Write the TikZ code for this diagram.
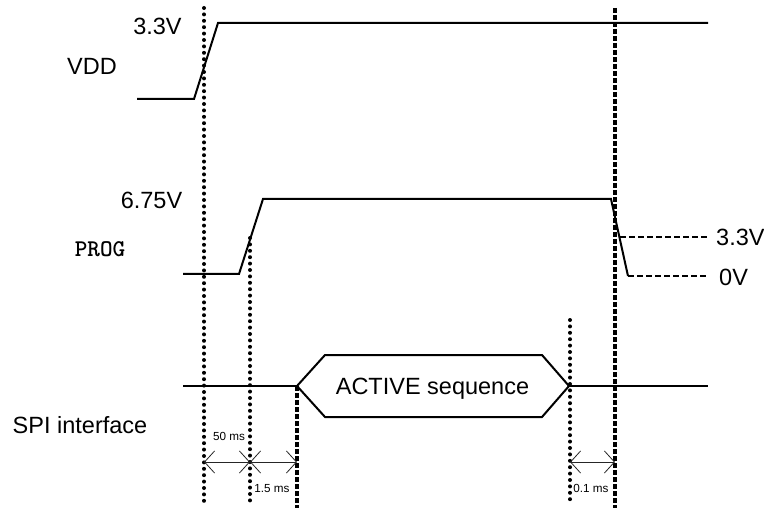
\documentclass[tikz,border=0pt]{standalone}
\usepackage{fontspec}
\setmainfont{Liberation Sans}
\newfontfamily\progfont{lmmonolt10-bold.otf}
\usetikzlibrary{arrows.meta, positioning}
\tikzset{
  wave/.style={line width=2pt, line join=miter},
  dotmark/.style={line width=4pt, line cap=round, dash pattern=on 0pt off 6.4pt},
  dashmark/.style={line width=3.5pt, dash pattern=on 5pt off 2pt},
  levelline/.style={line width=2.6pt, dash pattern=on 6pt off 3pt},
  lbl/.style={font=\fontsize{23.5}{26}\selectfont, inner sep=0pt, anchor=base},
  smalllbl/.style={font=\fontsize{11.7}{13}\selectfont, inner sep=0pt, anchor=base},
  dimarrow/.style={{Straight Barb[length=10pt,width=22pt,line width=0.8pt]}-{Straight Barb[length=10pt,width=22pt,line width=0.8pt]}, line width=0.8pt, draw=black!85},
}

\begin{document}
\begin{tikzpicture}[x=1pt, y=-1pt]
  \useasboundingbox (0,0) rectangle (764,508);

  % signal names and levels
  \node[lbl] (vdd) at (92,75) {VDD};
  \node[lbl] (vddhigh) at (157.5,35) {3.3V};
  \node[lbl] (proghigh) at (151.5,209) {6.75V};
  \node[lbl, font=\progfont\fontsize{24}{26}\selectfont] (prog) at (100,257) {PROG};
  \node[lbl, anchor=base west] (progmid) at (716,246) {3.3V};
  \node[lbl, anchor=base west] (proglow) at (719,285) {0V};
  \node[lbl] (spi) at (80,433) {SPI interface};
  \node[lbl] (active) at (432.5,394) {ACTIVE sequence};

  % VDD
  \coordinate (vddA) at (137,99);
  \coordinate (vddB) at (194,99);
  \coordinate (vddC) at (218,23);
  \coordinate (vddD) at (708,23);
  \draw[wave] (vddA) -- (vddB) -- (vddC) -- (vddD);

  % PROG
  \coordinate (progA) at (183,274);
  \coordinate (progB) at (239,274);
  \coordinate (progC) at (263,199);
  \coordinate (progD) at (611,199);
  \coordinate (progE) at (628,276);
  \coordinate (progF) at (620,237);
  \draw[wave] (progA) -- (progB) -- (progC) -- (progD) -- (progE);
  \draw[levelline] (progF) -- (708,237);
  \draw[levelline] (progE) -- (708,276);

  % SPI
  \coordinate (spiA) at (183,386);
  \coordinate (spiL) at (297,386);
  \coordinate (spiR) at (569,386);
  \coordinate (spiZ) at (708,386);
  \draw[wave] (spiA) -- (spiL);
  \draw[wave] (spiL) -- (325,355) -- (542,355) -- (spiR) -- (542,417) -- (325,417) -- cycle;
  \draw[wave] (spiR) -- (spiZ);

  % timing marks
  \coordinate (m1) at (204,462);
  \coordinate (m2) at (250,462);
  \coordinate (m3) at (297,462);
  \coordinate (m4) at (570,462);
  \coordinate (m5) at (615,462);
  \draw[dotmark] (204,8) -- (204,505);
  \draw[dotmark] (250,238) -- (250,505);
  \draw[dashmark] (spiL) -- (297,508);
  \draw[dotmark] (570,320) -- (570,505);
  \draw[dashmark] (615,8) -- (615,508);

  \draw[dimarrow] (m1) -- (m2);
  \draw[dimarrow] (m2) -- (m3);
  \draw[dimarrow] (m4) -- (m5);
  \node[smalllbl] (t50) at (229,440) {50 ms};
  \node[smalllbl] (t15) at (272,492) {1.5 ms};
  \node[smalllbl] (t01) at (591,492) {0.1 ms};
\end{tikzpicture}
\end{document}
